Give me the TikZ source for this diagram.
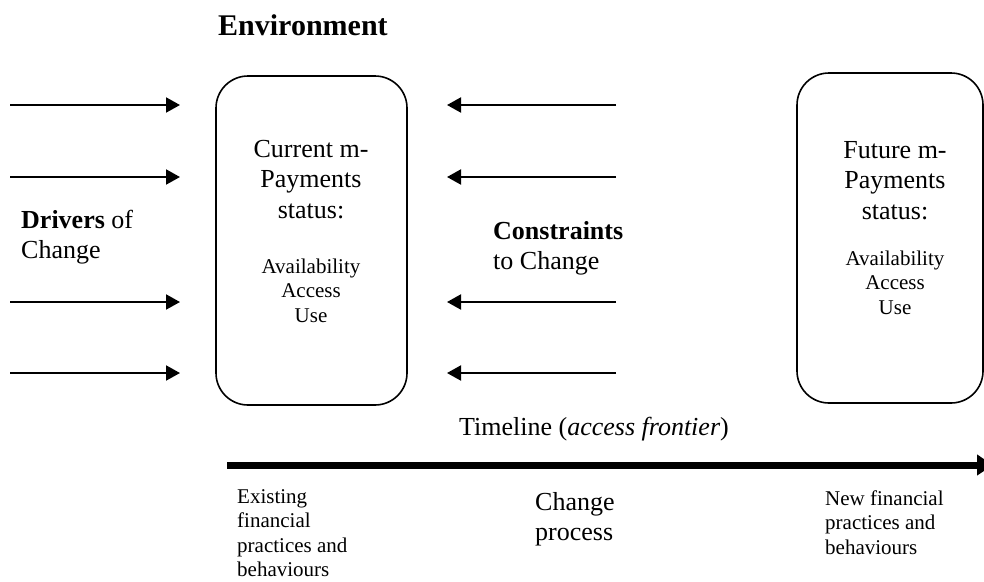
\documentclass[tikz,border=0pt]{standalone}
\usepackage{fontspec}
\setmainfont{Liberation Serif}
\usetikzlibrary{arrows.meta}

% stacked lines whose baseline is the first line
\newcommand\linesC[1]{\vtop{\halign{\hfil##\hfil\cr#1\crcr}}}
\newcommand\linesL[1]{\vtop{\halign{##\hfil\cr#1\crcr}}}
\newcommand\bigtxt{\fontsize{26}{30.5}\selectfont}
\newcommand\smalltxt{\fontsize{21}{24.5}\selectfont}

\begin{document}
\begin{tikzpicture}[x=1pt,y=-1pt,
  statusbox/.style={draw, line width=1.6pt, rounded corners=32pt, inner sep=0pt},
  label/.style={inner sep=0pt},
  push/.style={line width=2pt, -{Triangle[length=14pt,width=15pt]}},
  timeline/.style={line width=7pt, -{Triangle[length=16pt,width=20pt]}}]

\useasboundingbox (0,0) rectangle (984,581);

% heading
\node[label, anchor=base west, font=\fontsize{30}{34}\selectfont\bfseries] (env) at (218,35) {Environment};

% the two status boxes
\node[statusbox, minimum width=191pt, minimum height=329pt] (cur) at (311.5,240.5) {};
\node[statusbox, minimum width=186pt, minimum height=330pt] (fut) at (890,238) {};

\node[label, anchor=base] (curhead) at (311,157) {\bigtxt\linesC{Current m-\cr Payments\cr status:}};
\node[label, anchor=base] (curbody) at (311,273) {\smalltxt\linesC{Availability\cr Access\cr Use}};
\node[label, anchor=base] (futhead) at (895,158) {\bigtxt\linesC{Future m-\cr Payments\cr status:}};
\node[label, anchor=base] (futbody) at (895,265) {\smalltxt\linesC{Availability\cr Access\cr Use}};

% forces acting on the current status
\node[label, anchor=base west] (drivers) at (21,228) {\bigtxt\linesL{\textbf{Drivers} of\cr Change}};
\node[label, anchor=base west] (constr) at (493,239) {\bigtxt\linesL{\textbf{Constraints}\cr to Change}};

\foreach \i/\y in {1/105,2/177,3/302,4/373}{
  \coordinate (ds\i) at (10,\y);
  \coordinate (dt\i) at (180,\y);
  \coordinate (cs\i) at (616,\y);
  \coordinate (ct\i) at (447,\y);
  \draw[push] (ds\i) -- (dt\i);
  \draw[push] (cs\i) -- (ct\i);
}

% timeline
\node[label, anchor=base, font=\bigtxt] (tl) at (594,435) {Timeline (\textit{access frontier})};
\coordinate (tls) at (227,465);
\coordinate (tle) at (993,465);
\draw[timeline] (tls) -- (tle);

\node[label, anchor=base west] (exist) at (237,503) {\smalltxt\linesL{Existing\cr financial\cr practices and\cr behaviours}};
\node[label, anchor=base west] (chg) at (535,510) {\bigtxt\linesL{Change\cr process}};
\node[label, anchor=base west] (newfin) at (825,505) {\smalltxt\linesL{New financial\cr practices and\cr behaviours}};

\end{tikzpicture}
\end{document}
